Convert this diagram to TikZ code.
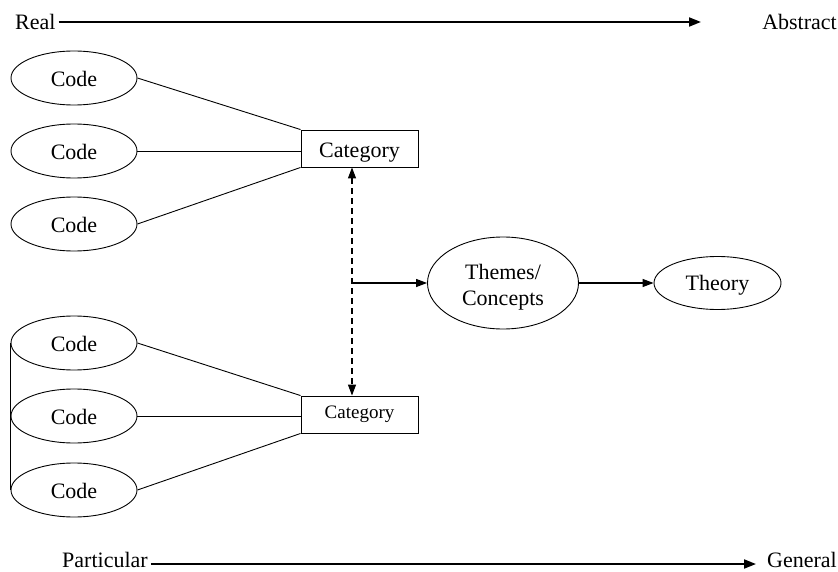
\documentclass[tikz,border=0pt]{standalone}
\usepackage{fontspec}
\setmainfont{Liberation Serif}
\usetikzlibrary{shapes.geometric,arrows.meta}
\begin{document}
\begin{tikzpicture}[x=1pt,y=-1pt,
  lbl/.style={font=\fontsize{22}{26}\selectfont,inner sep=0pt},
  codebox/.style={ellipse,draw,line width=0.9pt,minimum width=126pt,minimum height=54pt,inner sep=0pt,font=\fontsize{22}{26}\selectfont,text height=17pt,text depth=0pt},
  catbox/.style={rectangle,draw,line width=0.9pt,minimum width=117pt,minimum height=37pt,inner sep=0pt},
  link/.style={line width=0.9pt},
  axis/.style={line width=1.8pt,-{Triangle[length=12pt,width=9pt]}},
  arr/.style={line width=1.2pt,-{Triangle[length=11pt,width=8pt]}},
  darr/.style={line width=1.2pt,dash pattern=on 6pt off 4pt,{Triangle[length=11pt,width=8pt]}-{Triangle[length=11pt,width=8pt]}}
]
\useasboundingbox (0,0) rectangle (838,572);
% axes
\node[lbl,anchor=west] (real) at (15,22) {Real};
\node[lbl,anchor=east] (abstract) at (837,22) {Abstract};
\coordinate (topend) at (701,22);
\draw[axis] (real.east) ++(3,0) coordinate (rs) (rs) -- (topend);
\node[lbl,anchor=west] (particular) at (62,560) {Particular};
\node[lbl,anchor=east] (general) at (837,560) {General};
\coordinate (botend) at (756,564);
\draw[axis] (particular.east |- botend) ++(3,0) coordinate (ps) (ps) -- (botend);
% codes
\node[codebox] (c1) at (74,78) {Code};
\node[codebox] (c2) at (74,151) {Code};
\node[codebox] (c3) at (74,224) {Code};
\node[codebox] (c4) at (74,343) {Code};
\node[codebox] (c5) at (74,416) {Code};
\node[codebox] (c6) at (74,490) {Code};
% categories
\node[catbox,font=\fontsize{22}{26}\selectfont,text height=19pt,text depth=0pt] (cat1) at (359.5,148.5) {Category};
\node[catbox,font=\fontsize{19}{22}\selectfont] (cat2) at (359.5,414.5) {Category};
% links
\draw[link] (c1.east) -- (cat1.north west);
\draw[link] (c2.east) -- (cat1.west |- c2.east);
\draw[link] (c3.east) -- (cat1.south west);
\draw[link] (c4.east) -- (cat2.north west);
\draw[link] (c5.east) -- (cat2.west |- c5.east);
\draw[link] (c6.east) -- (cat2.south west);
\draw[link] (c4.west) -- (c6.west);
% themes and theory
\node[ellipse,draw,line width=0.9pt,minimum width=151pt,minimum height=92pt,inner sep=0pt] (themes) at (503,283) {};
\node[lbl,align=center] (themestext) at (503,287) {Themes/\\Concepts};
\node[codebox,minimum width=127pt,minimum height=53pt,text height=14pt,text depth=0pt] (theory) at (717.5,283) {Theory};
\coordinate (mid) at (352,283);
\draw[darr] (cat1.south -| mid) -- (cat2.north -| mid);
\draw[arr] (mid) -- (themes.west);
\draw[arr] (themes.east) -- (theory.west);
\end{tikzpicture}
\end{document}
